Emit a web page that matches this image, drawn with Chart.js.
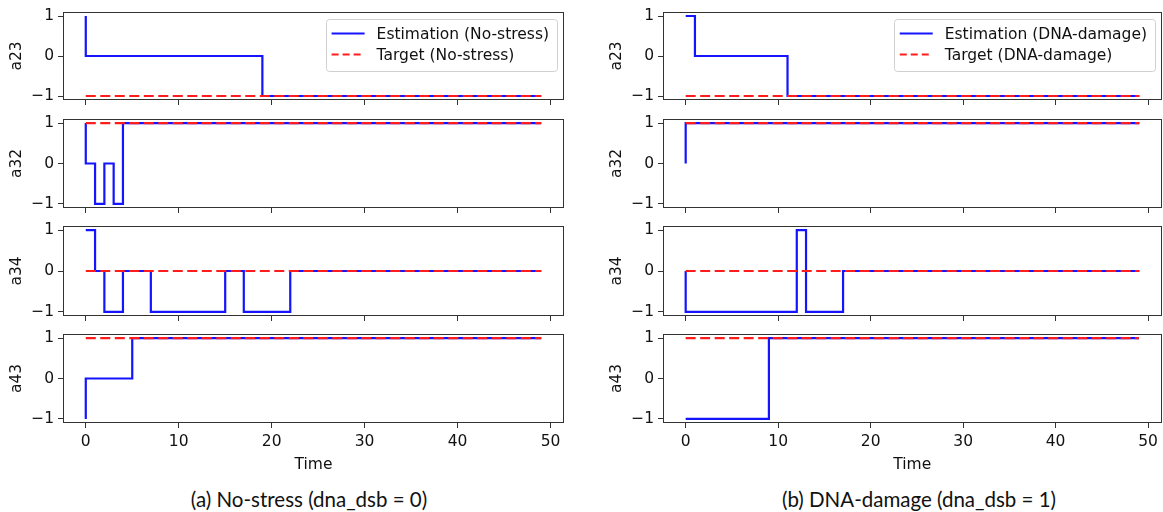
<!DOCTYPE html>
<html>
<head>
<meta charset="utf-8">
<script src="https://cdn.jsdelivr.net/npm/chart.js@4.4.0/dist/chart.umd.min.js"></script>
<style>
  html, body { margin: 0; padding: 0; background: #fff; }
  #wrap { position: relative; width: 1163px; height: 512px; overflow: hidden; }
  #wrap canvas { position: absolute; }
  .cap { position: absolute; top: 487px; font-family: Lato, "Open Sans", sans-serif; font-size: 20.5px; color: #111;
         white-space: nowrap; transform: translateX(-50%); line-height: 24px; }
</style>
</head>
<body>
<div id="wrap">
  <div class="cap" style="left:309px">(a) No-stress (dna_dsb = 0)</div>
  <div class="cap" style="left:919px">(b) DNA-damage (dna_dsb = 1)</div>
</div>
<script>
// time steps
const time = [0,1,2,3,4,5,6,7,8,9,10,11,12,13,14,15,16,17,18,19,20,21,22,23,24,25,26,27,28,29,30,31,32,33,34,35,36,37,38,39,40,41,42,43,44,45,46,47,48,49];
const variables = ['a23', 'a32', 'a34', 'a43'];
const conditions = ['No-stress', 'DNA-damage'];
const yTicks = [-1, 0, 1];
const xTicks = [0, 10, 20, 30, 40, 50];

// estimated values, No-stress (dna_dsb = 0)
const estNs_a23 = [1,0,0,0,0,0,0,0,0,0, 0,0,0,0,0,0,0,0,0,0, -1,-1,-1,-1,-1,-1,-1,-1,-1,-1, -1,-1,-1,-1,-1,-1,-1,-1,-1,-1, -1,-1,-1,-1,-1,-1,-1,-1,-1,-1];
const estNs_a32 = [1,0,-1,0,-1,1,1,1,1,1, 1,1,1,1,1,1,1,1,1,1, 1,1,1,1,1,1,1,1,1,1, 1,1,1,1,1,1,1,1,1,1, 1,1,1,1,1,1,1,1,1,1];
const estNs_a34 = [1,1,0,-1,-1,0,0,0,-1,-1, -1,-1,-1,-1,-1,-1,0,0,-1,-1, -1,-1,-1,0,0,0,0,0,0,0, 0,0,0,0,0,0,0,0,0,0, 0,0,0,0,0,0,0,0,0,0];
const estNs_a43 = [-1,0,0,0,0,0,1,1,1,1, 1,1,1,1,1,1,1,1,1,1, 1,1,1,1,1,1,1,1,1,1, 1,1,1,1,1,1,1,1,1,1, 1,1,1,1,1,1,1,1,1,1];

// estimated values, DNA-damage (dna_dsb = 1)
const estDd_a23 = [1,1,0,0,0,0,0,0,0,0, 0,0,-1,-1,-1,-1,-1,-1,-1,-1, -1,-1,-1,-1,-1,-1,-1,-1,-1,-1, -1,-1,-1,-1,-1,-1,-1,-1,-1,-1, -1,-1,-1,-1,-1,-1,-1,-1,-1,-1];
const estDd_a32 = [0,1,1,1,1,1,1,1,1,1, 1,1,1,1,1,1,1,1,1,1, 1,1,1,1,1,1,1,1,1,1, 1,1,1,1,1,1,1,1,1,1, 1,1,1,1,1,1,1,1,1,1];
const estDd_a34 = [0,-1,-1,-1,-1,-1,-1,-1,-1,-1, -1,-1,-1,1,-1,-1,-1,-1,0,0, 0,0,0,0,0,0,0,0,0,0, 0,0,0,0,0,0,0,0,0,0, 0,0,0,0,0,0,0,0,0,0];
const estDd_a43 = [-1,-1,-1,-1,-1,-1,-1,-1,-1,-1, 1,1,1,1,1,1,1,1,1,1, 1,1,1,1,1,1,1,1,1,1, 1,1,1,1,1,1,1,1,1,1, 1,1,1,1,1,1,1,1,1,1];

// target values (same for both conditions)
const target_a23 = [-1,-1,-1,-1,-1,-1,-1,-1,-1,-1, -1,-1,-1,-1,-1,-1,-1,-1,-1,-1, -1,-1,-1,-1,-1,-1,-1,-1,-1,-1, -1,-1,-1,-1,-1,-1,-1,-1,-1,-1, -1,-1,-1,-1,-1,-1,-1,-1,-1,-1];
const target_a32 = [1,1,1,1,1,1,1,1,1,1, 1,1,1,1,1,1,1,1,1,1, 1,1,1,1,1,1,1,1,1,1, 1,1,1,1,1,1,1,1,1,1, 1,1,1,1,1,1,1,1,1,1];
const target_a34 = [0,0,0,0,0,0,0,0,0,0, 0,0,0,0,0,0,0,0,0,0, 0,0,0,0,0,0,0,0,0,0, 0,0,0,0,0,0,0,0,0,0, 0,0,0,0,0,0,0,0,0,0];
const target_a43 = [1,1,1,1,1,1,1,1,1,1, 1,1,1,1,1,1,1,1,1,1, 1,1,1,1,1,1,1,1,1,1, 1,1,1,1,1,1,1,1,1,1, 1,1,1,1,1,1,1,1,1,1];

const estimates = [
  [estNs_a23, estNs_a32, estNs_a34, estNs_a43],
  [estDd_a23, estDd_a32, estDd_a34, estDd_a43]
];
const targets = [target_a23, target_a32, target_a34, target_a43];

Chart.defaults.font.family = '"DejaVu Sans"';
Chart.defaults.font.size = 15.5;
Chart.defaults.color = '#111';

const BLUE = '#1414ff';
const RED = '#ff1c1c';

// box around the axes, like matplotlib spines
const framePlugin = {
  id: 'frame',
  afterDatasetsDraw(chart) {
    const { ctx, chartArea: a } = chart;
    ctx.save();
    ctx.strokeStyle = '#333';
    ctx.lineWidth = 1;
    ctx.strokeRect(Math.round(a.left) + 0.5, Math.round(a.top) + 0.5,
                   Math.round(a.right - a.left) - 1, Math.round(a.bottom - a.top) - 1);
    ctx.restore();
  }
};

// legend drawn inside the axes (upper right)
const boxLegend = {
  id: 'boxLegend',
  afterDraw(chart, args, opts) {
    if (!opts || !opts.items) return;
    const { ctx, chartArea: a } = chart;
    ctx.save();
    ctx.font = '15.5px "DejaVu Sans"';
    const textW = Math.max(...opts.items.map(it => ctx.measureText(it.text).width));
    const w = 6 + 33 + 12 + textW + 8;
    const h = 52;
    const x = a.right - 7 - w;
    const y = a.top + 6.5;
    ctx.beginPath();
    ctx.roundRect(Math.round(x) + 0.5, Math.round(y) + 0.5, Math.round(w), h, 3);
    ctx.fillStyle = 'rgba(255,255,255,0.85)';
    ctx.fill();
    ctx.strokeStyle = '#d0d0d0';
    ctx.lineWidth = 1;
    ctx.stroke();
    opts.items.forEach((it, i) => {
      const cy = y + 15 + i * 21;
      ctx.beginPath();
      ctx.strokeStyle = it.color;
      ctx.lineWidth = 2.2;
      ctx.setLineDash(it.dash || []);
      ctx.moveTo(x + 6, cy);
      ctx.lineTo(x + 39, cy);
      ctx.stroke();
      ctx.setLineDash([]);
      ctx.fillStyle = '#111';
      ctx.textBaseline = 'middle';
      ctx.fillText(it.text, x + 51, cy + 1);
    });
    ctx.restore();
  }
};

const frameTops = [12, 119, 226, 334];
const frameBottoms = [100, 208, 316, 423];
const colLefts = [0, 600];
const colWidths = [580, 563];
const padRights = [16, 1];
const yAxisWidth = 63;

const wrap = document.getElementById('wrap');

for (let c = 0; c < 2; c++) {
  for (let r = 0; r < 4; r++) {
    const last = r === 3;
    const top = frameTops[r] - 14;
    const bottom = last ? 480 : frameBottoms[r] + 14;
    const xAxisH = bottom - frameBottoms[r];

    const canvas = document.createElement('canvas');
    canvas.width = colWidths[c];
    canvas.height = bottom - top;
    canvas.style.left = colLefts[c] + 'px';
    canvas.style.top = top + 'px';
    wrap.appendChild(canvas);

    new Chart(canvas, {
      type: 'line',
      data: {
        labels: time,
        datasets: [
          {
            label: 'Estimation (' + conditions[c] + ')',
            data: estimates[c][r],
            borderColor: BLUE,
            borderWidth: 2.2,
            stepped: 'after',
            pointRadius: 0,
            fill: false,
            order: 1
          },
          {
            label: 'Target (' + conditions[c] + ')',
            data: targets[r],
            borderColor: RED,
            borderWidth: 2.2,
            borderDash: [10, 4.5],
            pointRadius: 0,
            fill: false,
            order: 0
          }
        ]
      },
      options: {
        responsive: false,
        animation: false,
        layout: { padding: { left: 0, right: padRights[c], top: 14, bottom: 0 } },
        plugins: {
          legend: { display: false },
          tooltip: { enabled: false },
          boxLegend: r === 0 ? {
            items: [
              { text: 'Estimation (' + conditions[c] + ')', color: BLUE },
              { text: 'Target (' + conditions[c] + ')', color: RED, dash: [7, 4] }
            ]
          } : {}
        },
        scales: {
          x: {
            type: 'linear',
            min: -2.45,
            max: 51.45,
            afterBuildTicks: s => { s.ticks = xTicks.map(v => ({ value: v })); },
            afterFit: s => { s.height = xAxisH; },
            ticks: { display: last, padding: 5, includeBounds: false, maxRotation: 0 },
            grid: { drawOnChartArea: false, drawTicks: true, tickLength: 5, color: '#333', lineWidth: 1 },
            border: { display: false },
            title: { display: last, text: 'Time', padding: { top: 0, bottom: 6 } }
          },
          y: {
            min: -1.1,
            max: 1.1,
            afterBuildTicks: s => { s.ticks = yTicks.map(v => ({ value: v })); },
            afterFit: s => { s.width = yAxisWidth; },
            ticks: {
              padding: 4,
              includeBounds: false,
              callback: v => (v < 0 ? '\u2212' + Math.abs(v) : String(v))
            },
            grid: { drawOnChartArea: false, drawTicks: true, tickLength: 5, color: '#333', lineWidth: 1 },
            border: { display: false },
            title: { display: true, text: variables[r], padding: { top: 8, bottom: 0 } }
          }
        }
      },
      plugins: [framePlugin, boxLegend]
    });
  }
}
</script>
</body>
</html>
